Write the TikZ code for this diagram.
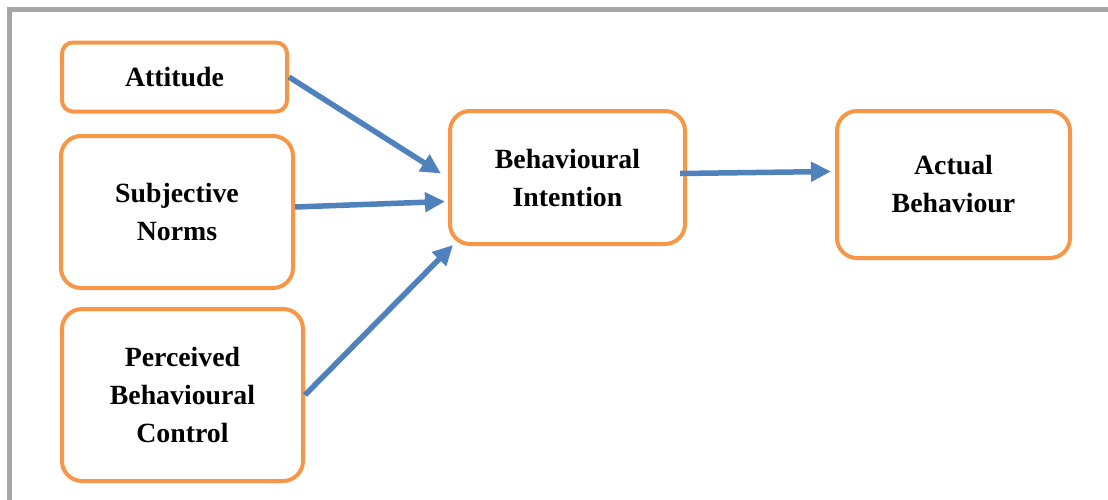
\documentclass[tikz,border=0pt]{standalone}
\usepackage{fontspec}
\setmainfont{Liberation Serif}
\usetikzlibrary{positioning,arrows.meta}
\usepackage{xcolor}
\definecolor{boxorange}{HTML}{F79646}
\definecolor{arrowblue}{HTML}{4F81BD}
\definecolor{framegray}{HTML}{A6A6A6}

\begin{document}
\begin{tikzpicture}[
    x=1pt, y=-1pt,
    box/.style={
        rectangle, draw=boxorange, line width=4pt, rounded corners=20pt,
        align=center, inner sep=0pt, fill=white,
        font=\fontsize{27.8}{38}\selectfont\bfseries
    },
    arrow/.style={-{Triangle[length=20pt,width=19pt]}, line width=5.5pt, arrowblue}
]
\useasboundingbox (0,0) rectangle (1108,499);
\draw[framegray, line width=4.5pt] (9.5,520) -- (9.5,9.5) -- (1120,9.5);

\node[box, rounded corners=11pt, minimum width=225pt, minimum height=69pt] (att) at (174.5,77) {Attitude};
\node[box, minimum width=232pt, minimum height=152pt] (sn) at (177,212) {Subjective\\Norms};
\node[box, minimum width=241pt, minimum height=172pt] (pbc) at (182.5,395) {Perceived\\Behavioural\\Control};
\node[box, minimum width=235pt, minimum height=133pt] (bi) at (567.5,177.5) {Behavioural\\Intention};
\node[box, minimum width=233pt, minimum height=147pt] (ab) at (953.5,184.5) {Actual\\Behaviour};

\draw[arrow] (att.east) -- ([xshift=-7pt,yshift=4pt]bi.west);
\draw[arrow] ([yshift=5pt]sn.east) -- ([xshift=-3pt,yshift=-24pt]bi.west);
\draw[arrow] (pbc.east) -- ([xshift=5pt,yshift=1pt]bi.south west);
\draw[arrow] ([xshift=-7pt,yshift=4pt]bi.east) -- ([xshift=-4pt,yshift=13pt]ab.west);
\end{tikzpicture}
\end{document}
